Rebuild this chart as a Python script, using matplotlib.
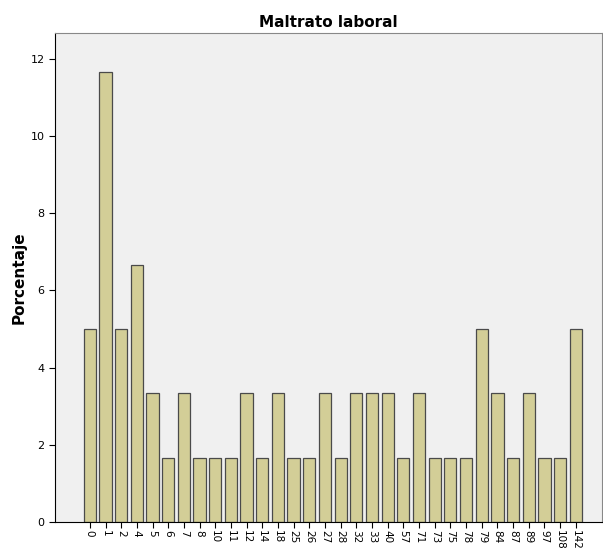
import matplotlib
matplotlib.use('Agg')
import matplotlib.pyplot as plt
import numpy as np

categorias = ['0', '1', '2', '4', '5', '6', '7', '8', '10', '11', '12', '14', '18', '25', '26', '27',
              '28', '32', '33', '40', '57', '71', '73', '75', '78', '79', '84', '87', '89', '97', '108', '142']
frecuencias = [3, 7, 3, 4, 2, 1, 2, 1, 1, 1, 2, 1, 2, 1, 1, 2,
               1, 2, 2, 2, 1, 2, 1, 1, 1, 3, 2, 1, 2, 1, 1, 3]
porcentaje = [100.0 * f / 60 for f in frecuencias]
yticks = [0, 2, 4, 6, 8, 10, 12]

fig = plt.figure(figsize=(6.03, 5.5), dpi=100)
ax = fig.add_axes([0.091, 0.051, 0.907, 0.889])
ax.set_facecolor('#f0f0f0')

x = np.arange(len(categorias))
ax.bar(x, porcentaje, width=0.78, color='#d3ce97', edgecolor='#4a4a4a', linewidth=0.9)

ax.set_xlim(-2.23, len(categorias) - 1 + 1.66)
ax.set_ylim(0, 12.67)
ax.set_yticks(yticks)
ax.set_xticks(x)
ax.set_xticklabels(categorias, rotation=-90, fontsize=7.5)
ax.tick_params(axis='y', labelsize=8, length=4)
ax.tick_params(axis='x', length=4, pad=2)

for s in ['top', 'right']:
    ax.spines[s].set_color('#888888')
ax.spines['left'].set_color('black')
ax.spines['bottom'].set_color('black')

ax.set_ylabel('Porcentaje', fontsize=11, fontweight='bold', labelpad=3)
ax.set_title('Maltrato laboral', fontsize=11, fontweight='bold', pad=4)

fig.savefig('out.png', dpi=100)
